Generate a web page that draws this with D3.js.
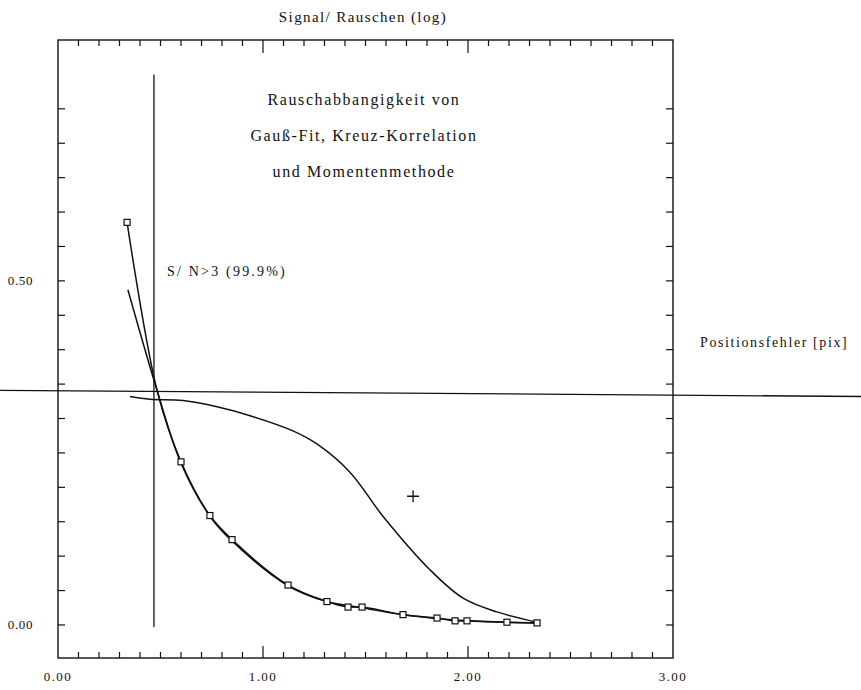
<!DOCTYPE html>
<html lang="de">
<head>
  <meta charset="UTF-8">
  <title>Rauschabhängigkeit</title>
  <style>
    body { margin: 0; background: #fff; }
    text { font-family: 'Liberation Serif', 'DejaVu Serif', serif; fill: #111; }
  </style>
</head>
<body>

  <svg id="svg" width="861" height="690"></svg>

  <script src="https://d3js.org/d3.v7.min.js"></script>
  <script>
    // --------------- data ---------------

    // Gauss-Fit, with square markers (the point at the crossing carries no marker)
    const gaussX = [0.337, 0.483, 0.600, 0.741, 0.849, 1.122, 1.312, 1.415, 1.483, 1.683, 1.849, 1.937, 1.995, 2.190, 2.337]
    const gaussY = [0.585, 0.341, 0.237, 0.159, 0.124, 0.058, 0.034, 0.026, 0.026, 0.015, 0.010, 0.006, 0.006, 0.004, 0.003]
    const gaussMarked = [1, 0, 1, 1, 1, 1, 1, 1, 1, 1, 1, 1, 1, 1, 1]

    // Kreuz-Korrelation, no markers
    const kreuzX = [0.341, 0.483, 0.600, 0.741, 0.849, 1.122, 1.312, 1.483, 1.683, 1.995, 2.337]
    const kreuzY = [0.487, 0.341, 0.235, 0.158, 0.122, 0.057, 0.034, 0.025, 0.015, 0.006, 0.003]

    // Momentenmethode
    const momentX = [0.351, 0.449, 0.610, 0.776, 0.937, 1.146, 1.263, 1.424, 1.585, 1.815, 1.976, 2.141, 2.337]
    const momentY = [0.332, 0.328, 0.326, 0.317, 0.304, 0.282, 0.263, 0.222, 0.158, 0.080, 0.039, 0.019, 0.004]

    // single "+" marker
    const crossPoint = [1.732, 0.187]

    // reference lines
    const snLimitX = 0.468
    const snLimitY = [-0.003, 0.80]
    const posErrLine = [[-0.29, 0.341], [3.92, 0.332]]

    const xTickLabels = [0, 1, 2, 3]
    const yTickLabels = [0, 0.5]
    const titleLines = ['Rauschabbangigkeit von', 'Gauß-Fit, Kreuz-Korrelation', 'und Momentenmethode']

    // --------------- scales ---------------

    const xScale = d3.scaleLinear()
      .domain([0, 3])
      .range([58, 673])

    const yScale = d3.scaleLinear()
      .domain([-0.048, 0.85])
      .range([658, 40])

    const svg = d3.select('#svg')
    const ink = '#111'

    const xMinor = d3.range(0, 30).map(i => i / 10)
    const yMinor = d3.range(0, 16).map(i => i * 0.05)

    // --------------- frame + ticks ---------------

    svg.append('rect')
      .attr('x', xScale(0))
      .attr('y', yScale(0.85))
      .attr('width', xScale(3) - xScale(0))
      .attr('height', yScale(-0.048) - yScale(0.85))
      .attr('fill', 'none')
      .attr('stroke', ink)
      .attr('stroke-width', 1.4)

    const isMajor = v => Math.abs(v - Math.round(v)) < 1e-6

    // bottom (ticks up)
    svg.append('g').selectAll('line')
      .data(xMinor.slice(1))
      .enter().append('line')
      .attr('x1', d => xScale(d)).attr('x2', d => xScale(d))
      .attr('y1', yScale(-0.048))
      .attr('y2', d => yScale(-0.048) - (isMajor(d) ? 12 : 6))
      .attr('stroke', ink).attr('stroke-width', 1.2)

    // top (ticks down)
    svg.append('g').selectAll('line')
      .data(xMinor.slice(1))
      .enter().append('line')
      .attr('x1', d => xScale(d)).attr('x2', d => xScale(d))
      .attr('y1', yScale(0.85))
      .attr('y2', d => yScale(0.85) + (isMajor(d) ? 13 : 6))
      .attr('stroke', ink).attr('stroke-width', 1.2)

    // left (ticks right)
    svg.append('g').selectAll('line')
      .data(yMinor)
      .enter().append('line')
      .attr('x1', xScale(0)).attr('x2', xScale(0) + 7)
      .attr('y1', d => yScale(d)).attr('y2', d => yScale(d))
      .attr('stroke', ink).attr('stroke-width', 1.2)

    // right (ticks left)
    svg.append('g').selectAll('line')
      .data(yMinor)
      .enter().append('line')
      .attr('x1', xScale(3)).attr('x2', xScale(3) - 7)
      .attr('y1', d => yScale(d)).attr('y2', d => yScale(d))
      .attr('stroke', ink).attr('stroke-width', 1.2)

    // tick labels
    svg.append('g').selectAll('text')
      .data(xTickLabels)
      .enter().append('text')
      .attr('x', d => xScale(d))
      .attr('y', 681)
      .attr('text-anchor', 'middle')
      .style('font-size', '13px')
      .style('letter-spacing', '1.4px')
      .text(d => d3.format('.2f')(d))

    svg.append('g').selectAll('text')
      .data(yTickLabels)
      .enter().append('text')
      .attr('x', 33)
      .attr('y', d => yScale(d) + 4)
      .attr('text-anchor', 'end')
      .style('font-size', '13px')
      .style('letter-spacing', '0.6px')
      .text(d => d3.format('.2f')(d))

    // --------------- reference lines ---------------

    svg.append('path')
      .attr('d', d3.line().x(d => xScale(d[0])).y(d => yScale(d[1]))(posErrLine))
      .attr('stroke', ink).attr('stroke-width', 1.3).attr('fill', 'none')

    svg.append('line')
      .attr('x1', xScale(snLimitX)).attr('x2', xScale(snLimitX))
      .attr('y1', yScale(snLimitY[0])).attr('y2', yScale(snLimitY[1]))
      .attr('stroke', ink).attr('stroke-width', 1.3)

    // --------------- curves ---------------

    const curve = d3.line()
      .x(d => xScale(d[0]))
      .y(d => yScale(d[1]))
      .curve(d3.curveCatmullRom.alpha(0.5))

    const series = [
      d3.zip(gaussX, gaussY),
      d3.zip(kreuzX, kreuzY),
      d3.zip(momentX, momentY)
    ]

    svg.append('g').selectAll('path')
      .data(series)
      .enter().append('path')
      .attr('d', d => curve(d))
      .attr('fill', 'none')
      .attr('stroke', ink)
      .attr('stroke-width', 1.5)

    // square markers on the Gauss-Fit curve
    svg.append('g').selectAll('rect')
      .data(d3.zip(gaussX, gaussY, gaussMarked).filter(d => d[2]))
      .enter().append('rect')
      .attr('x', d => xScale(d[0]) - 3)
      .attr('y', d => yScale(d[1]) - 3)
      .attr('width', 6).attr('height', 6)
      .attr('fill', '#fff')
      .attr('stroke', ink)
      .attr('stroke-width', 1.2)

    // plus marker
    const cx = xScale(crossPoint[0]), cy = yScale(crossPoint[1])
    svg.append('path')
      .attr('d', `M${cx - 6},${cy}H${cx + 6}M${cx},${cy - 6}V${cy + 6}`)
      .attr('stroke', ink).attr('stroke-width', 1.3)

    // --------------- texts ---------------

    svg.append('text')
      .attr('x', 363).attr('y', 22)
      .attr('text-anchor', 'middle')
      .style('font-size', '15px')
      .style('letter-spacing', '1.4px')
      .text('Signal/ Rauschen (log)')

    svg.append('g').selectAll('text')
      .data(titleLines)
      .enter().append('text')
      .attr('x', 364)
      .attr('y', (d, i) => 105 + i * 36)
      .attr('text-anchor', 'middle')
      .style('font-size', '16px')
      .style('letter-spacing', '1.6px')
      .text(d => d)

    svg.append('text')
      .attr('x', 167).attr('y', 276)
      .style('font-size', '14px')
      .style('letter-spacing', '2.2px')
      .text('S/ N>3 (99.9%)')

    svg.append('text')
      .attr('x', 700).attr('y', 347)
      .style('font-size', '14px')
      .style('letter-spacing', '1.6px')
      .text('Positionsfehler [pix]')
  </script>
</body>
</html>
